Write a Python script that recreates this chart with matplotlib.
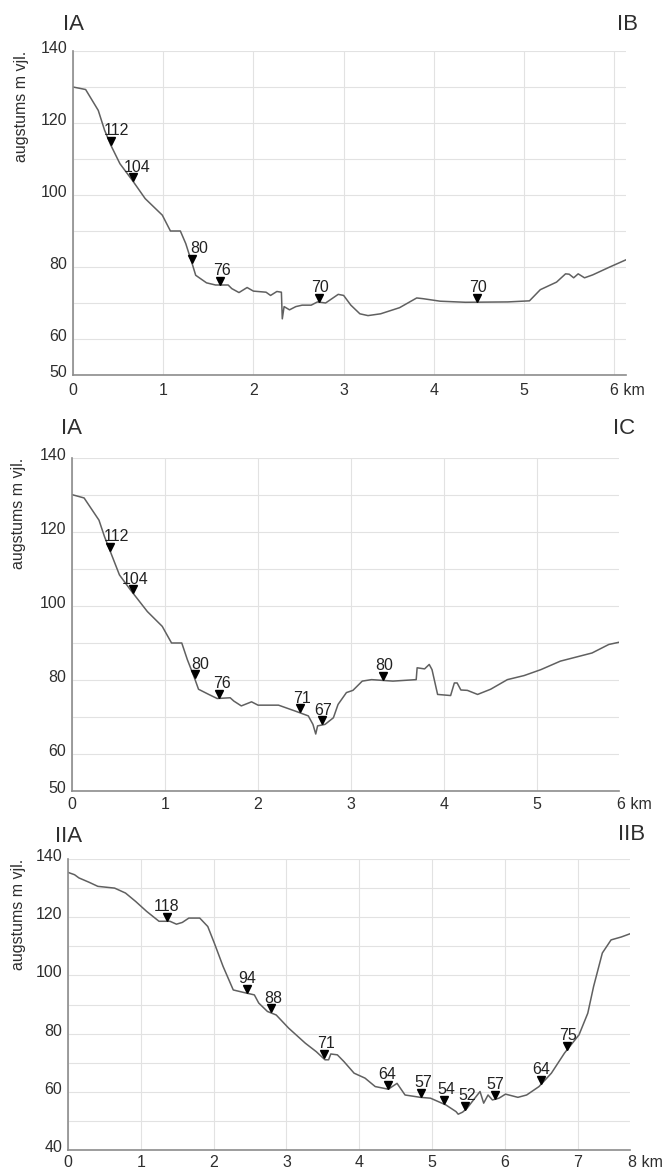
import numpy as np
import matplotlib.pyplot as plt
from matplotlib import transforms

plt.rcParams['font.family'] = ['Liberation Sans', 'DejaVu Sans']

# profile IA - IB
x1 = [0, 0.14, 0.28, 0.35, 0.42, 0.52, 0.66, 0.80, 0.99, 1.08, 1.19, 1.25, 1.32, 1.36,
      1.48, 1.58, 1.72, 1.76, 1.84, 1.93, 2.0, 2.14, 2.19, 2.26, 2.31, 2.32, 2.34, 2.40,
      2.47, 2.54, 2.64, 2.71, 2.80, 2.94, 3.0, 3.08, 3.18, 3.27, 3.41, 3.62, 3.81, 3.88,
      4.07, 4.35, 4.82, 5.06, 5.18, 5.36, 5.46, 5.50, 5.55, 5.60, 5.67, 5.76, 5.95, 6.13]
y1 = [130, 129.3, 123.5, 118, 113.8, 108.7, 104, 99, 94.4, 90, 90, 86.5, 81, 77.7,
      75.6, 75, 75, 74, 72.9, 74.3, 73.3, 73, 72.1, 73.2, 73, 65.6, 69, 68.1,
      69, 69.4, 69.4, 70.3, 70, 72.4, 72.1, 69.4, 67, 66.5, 67, 68.7, 71.4, 71.2,
      70.5, 70.2, 70.3, 70.6, 73.7, 75.8, 78.1, 78, 77, 78.1, 77, 77.8, 80, 82]
m1_x = [0.42, 0.67, 1.32, 1.63, 2.73, 4.48]
m1_lab = ['112', '104', '80', '76', '70', '70']

# profile IA - IC
x2 = [0, 0.13, 0.29, 0.35, 0.42, 0.51, 0.63, 0.81, 0.97, 1.07, 1.18, 1.24, 1.31, 1.36,
      1.47, 1.56, 1.70, 1.74, 1.82, 1.93, 2.0, 2.22, 2.40, 2.54, 2.59, 2.62, 2.64, 2.72,
      2.81, 2.86, 2.95, 3.02, 3.12, 3.22, 3.45, 3.70, 3.71, 3.79, 3.84, 3.87, 3.93, 4.07,
      4.11, 4.14, 4.18, 4.25, 4.36, 4.50, 4.68, 4.86, 5.04, 5.25, 5.59, 5.77, 5.88]
y2 = [130.1, 129.2, 123.2, 118.7, 114.2, 108.4, 104.3, 98.5, 94.5, 90, 90, 85.5, 81, 77.5,
      76.1, 75, 75.2, 74.3, 73, 74.1, 73.2, 73.2, 71.6, 70.3, 68, 65.4, 67.6, 68,
      69.8, 73.4, 76.6, 77.2, 79.7, 80.1, 79.7, 80.1, 83.3, 83, 84.2, 82.8, 76.1, 75.8,
      79.2, 79.2, 77.3, 77.2, 76.1, 77.5, 80.1, 81.2, 82.8, 85.1, 87.3, 89.6, 90.2]
m2_x = [0.41, 0.66, 1.32, 1.58, 2.45, 2.69, 3.34]
m2_lab = ['112', '104', '80', '76', '71', '67', '80']

# profile IIA - IIB
x3 = [0, 0.09, 0.15, 0.29, 0.41, 0.64, 0.79, 0.93, 1.08, 1.25, 1.40, 1.49, 1.57, 1.66,
      1.81, 1.92, 2.01, 2.13, 2.27, 2.42, 2.56, 2.62, 2.74, 2.86, 3.03, 3.26, 3.41, 3.53,
      3.58, 3.61, 3.70, 3.79, 3.93, 4.08, 4.22, 4.40, 4.52, 4.63, 4.84, 4.98, 5.19, 5.33,
      5.36, 5.42, 5.48, 5.57, 5.66, 5.71, 5.77, 5.83, 5.92, 6.01, 6.18, 6.30, 6.47, 6.64,
      6.82, 7.02, 7.14, 7.22, 7.34, 7.46, 7.60, 7.72]
y3 = [135.4, 134.6, 133.5, 132, 130.6, 130, 128.3, 125.4, 122, 118.6, 118.6, 117.6, 118.2, 119.7,
      119.7, 116.8, 111.1, 103.1, 95, 94.1, 93.3, 90.5, 87.6, 86.4, 81.9, 76.7, 73.8, 71,
      71, 73, 72.7, 70.4, 66.4, 64.7, 61.8, 60.9, 62.9, 58.9, 58.1, 57.8, 55.5, 53.2,
      52.3, 53, 54.3, 57.2, 60.1, 56.1, 58.9, 57.2, 57.8, 59.2, 58.1, 58.9, 61.8, 66.4,
      73.3, 79.6, 87, 96.2, 107.7, 112.2, 113.2, 114.3]
m3_x = [1.36, 2.46, 2.79, 3.51, 4.40, 4.85, 5.17, 5.45, 5.86, 6.50, 6.85]
m3_lab = ['118', '94', '88', '71', '64', '57', '54', '52', '57', '64', '75']

fig = plt.figure(figsize=(6.63, 11.68), dpi=100)

line_c = '#606060'
txt_c = '#2e2e2e'
fs = 11.5


def profile(rect, x, y, mx, mlab, lab_dx, ylo, ymaj, ymin, xmax, xt, end_x, end_lab,
            pad, left_name, right_name, left_off, right_off, ylab_dx):
    ax = fig.add_axes(rect)
    ax.plot(x, y, color=line_c, lw=1.1)
    my = np.interp(mx, x, y)
    up = transforms.offset_copy(ax.transData, fig=fig, x=0, y=4.5, units='dots')
    ax.plot(mx, my, 'v', color='black', ms=5.5, transform=up, clip_on=False)
    for xx, yy, lab, dx in zip(mx, my, mlab, lab_dx):
        ax.annotate(lab, xy=(xx, yy), xytext=(dx, 10), textcoords='offset pixels',
                    ha='center', va='baseline', fontsize=fs, color='#222222')
    ax.set_xlim(0, xmax)
    ax.set_ylim(ylo, 140)
    ax.set_xticks(xt)
    ax.set_xticklabels([str(v) for v in xt[:-1]] + [''] if xt[-1] == end_x else [str(v) for v in xt])
    ax.set_yticks(ymaj)
    ax.set_yticks(ymin, minor=True)
    ax.grid(True, which='both', color='#e2e2e2', lw=0.8)
    ax.set_axisbelow(True)
    ax.tick_params(which='both', length=0, labelsize=fs, labelcolor=txt_c)
    ax.tick_params(axis='x', pad=pad)
    ax.tick_params(axis='y', pad=4)
    shift = transforms.ScaledTranslation(0, 4 / 100, fig.dpi_scale_trans)
    for t in ax.get_yticklabels():
        t.set_transform(t.get_transform() + shift)
    for s in ['top', 'right']:
        ax.spines[s].set_visible(False)
    for s in ['left', 'bottom']:
        ax.spines[s].set_color('#8c8c8c')
        ax.spines[s].set_linewidth(1.2)
    ax.annotate(end_lab, xy=(end_x, 0), xycoords=('data', 'axes fraction'),
                xytext=(-4, -pad * 100 / 72), textcoords='offset pixels',
                ha='left', va='top', fontsize=fs, color=txt_c)
    ax.annotate(left_name, xy=(0, 1), xycoords='axes fraction', xytext=left_off,
                textcoords='offset pixels', ha='left', va='center', fontsize=16, color=txt_c)
    ax.annotate(right_name, xy=(1, 1), xycoords='axes fraction', xytext=right_off,
                textcoords='offset pixels', ha='right', va='center', fontsize=16, color=txt_c)
    ax.annotate('augstums m vjl.', xy=(0, 1), xycoords='axes fraction', xytext=(ylab_dx, 0),
                textcoords='offset pixels', rotation=90, ha='center', va='top',
                fontsize=11.5, color=txt_c)
    return ax


profile([73 / 663, 1 - 375 / 1168, 553 / 663, 324 / 1168], x1, y1, m1_x, m1_lab,
        [6, 4, 7, 2, 1, 1], 50, [50, 60, 80, 100, 120, 140], [70, 90, 110, 130], 6.13,
        [0, 1, 2, 3, 4, 5, 6], 6, '6 km', 5.8, 'IA', 'IB', (-10, 26), (12, 26), -51)

profile([72 / 663, 1 - 791 / 1168, 547 / 663, 333 / 1168], x2, y2, m2_x, m2_lab,
        [6, 2, 5, 3, 2, 1, 1], 50, [50, 60, 80, 100, 120, 140], [70, 90, 110, 130], 5.88,
        [0, 1, 2, 3, 4, 5], 5.9, '6 km', 4.3, 'IA', 'IC', (-11, 29), (16, 30), -53)

profile([68 / 663, 1 - 1150 / 1168, 562 / 663, 291 / 1168], x3, y3, m3_x, m3_lab,
        [0, 0, 2, 2, -1, 2, 2, 2, 1, 0, 1], 40, [40, 60, 80, 100, 120, 140],
        [50, 70, 90, 110, 130], 7.72, [0, 1, 2, 3, 4, 5, 6, 7], 7.75, '8 km', 3.6,
        'IIA', 'IIB', (-13, 22), (15, 24), -49)

fig.savefig('out.png', dpi=100)
